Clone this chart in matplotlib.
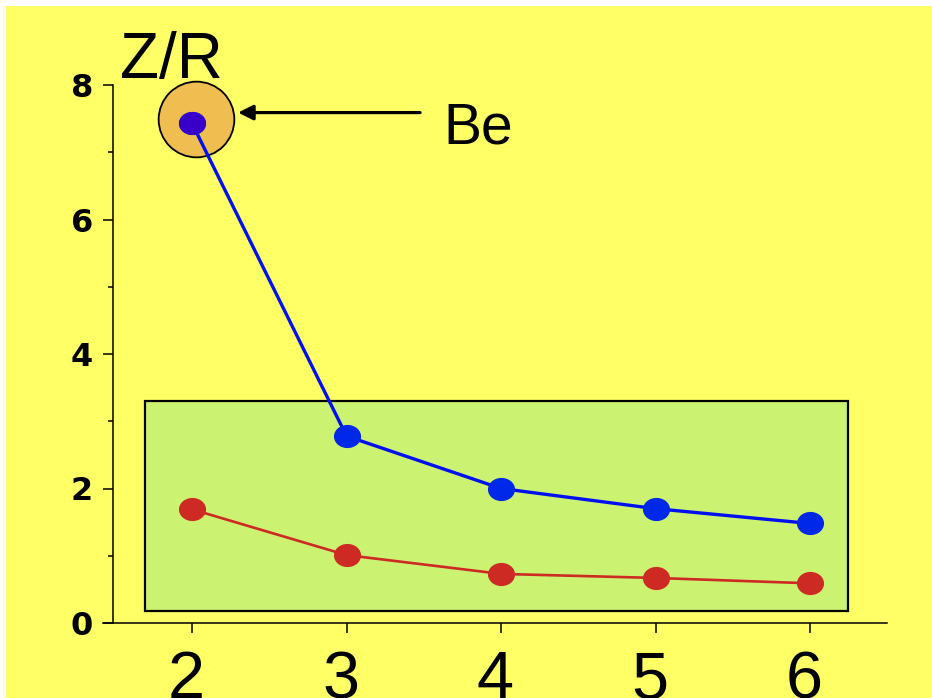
import matplotlib
matplotlib.use("Agg")
import matplotlib.pyplot as plt
from matplotlib.patches import Rectangle
from matplotlib.path import Path
from matplotlib.transforms import Affine2D, ScaledTranslation, offset_copy

# ---- data ----
x_vals = [2, 3, 4, 5, 6]
blue_vals = [7.43, 2.78, 2.00, 1.70, 1.48]
red_vals = [1.69, 1.01, 0.73, 0.67, 0.59]
y_ticks = [0, 2, 4, 6, 8]
y_minor = [1, 3, 5, 7]
x_tick_labels = ["2", "3", "4", "5", "6"]
highlight_label = "Be"
y_title = "Z/R"
box_x = (1.696, 6.246)
box_y = (0.178, 3.30)

DPI = 100
fig = plt.figure(figsize=(9.32, 6.98), dpi=DPI, facecolor="white")
fig.patches.append(Rectangle((6 / 932, 0), 1, 1 - 6 / 698, transform=fig.transFigure,
                             facecolor="#FFFF66", edgecolor="none", zorder=-10))

ax = fig.add_axes([103 / 932, 1 - 623 / 698, (887 - 103) / 932, (623 - 85) / 698])
ax.set_facecolor("none")
ax.set_xlim(1.424, 6.498)
ax.set_ylim(0, 8)

for s in ["top", "right"]:
    ax.spines[s].set_visible(False)
ax.spines["left"].set_position(("data", 1.489))
ax.spines["left"].set_linewidth(1.1)
ax.spines["bottom"].set_linewidth(1.1)

# green box
ax.add_patch(Rectangle((box_x[0], box_y[0]), box_x[1] - box_x[0], box_y[1] - box_y[0],
                       facecolor="#CCF272", edgecolor="black", linewidth=1.6, zorder=1))

# elliptical marker
ell = Path.unit_circle().transformed(Affine2D().scale(1.0, 22 / 26))

# Be highlight circle
circ_tr = offset_copy(ax.transData, fig, x=4, y=4, units="dots")
ax.plot([x_vals[0]], [blue_vals[0]], marker="o", ms=54.5, mfc="#F0BE50", mec="black",
        mew=1.3, linestyle="none", transform=circ_tr, zorder=2, clip_on=False)

ax.plot(x_vals, red_vals, color="#CC2A22", lw=1.9, marker=ell, ms=18.5,
        mfc="#CC2A22", mec="#CC2A22", zorder=3)
ax.plot(x_vals, blue_vals, color="#0010F0", lw=2.4, marker=ell, ms=18.5,
        mfc="#0028E8", mec="#0028E8", zorder=4, clip_on=False)
ax.plot([x_vals[0]], [blue_vals[0]], marker=ell, ms=18.5, mfc="#3600C8", mec="#3600C8",
        linestyle="none", zorder=5, clip_on=False)

# arrow and label
ax.annotate("", xy=(2.298, 7.59), xytext=(3.476, 7.59),
            arrowprops=dict(arrowstyle="-|>,head_length=0.9,head_width=0.45",
                            color="black", lw=2.3, shrinkA=0, shrinkB=0),
            zorder=6, annotation_clip=False)
ax.text(3.625, 7.13, highlight_label, fontsize=41, family=["Liberation Sans", "DejaVu Sans"],
        ha="left", va="baseline")
ax.text(1.534, 8.10, y_title, fontsize=46, family=["Liberation Sans", "DejaVu Sans"],
        ha="left", va="baseline", clip_on=False)

# ticks
ax.set_yticks(y_ticks)
ax.set_yticks(y_minor, minor=True)
ax.set_yticklabels([str(v) for v in y_ticks], fontsize=23, fontweight="heavy",
                   family=["DejaVu Sans"])
ax.tick_params(axis="y", which="major", length=7.5, width=1.1, pad=7, direction="out")
ax.tick_params(axis="y", which="minor", length=3.8, width=1.1, direction="out")

ax.set_xticks(x_vals)
ax.set_xticklabels(x_tick_labels, fontsize=48,
                   family=["Liberation Sans Narrow", "Liberation Sans", "DejaVu Sans"])
ax.tick_params(axis="x", which="major", length=7.5, width=1.1, pad=12, direction="out")

for lab in ax.get_xticklabels():
    lab.set_transform(lab.get_transform() + ScaledTranslation(-6 / DPI, 0, fig.dpi_scale_trans))

fig.savefig("out.png", dpi=DPI, facecolor="white")
